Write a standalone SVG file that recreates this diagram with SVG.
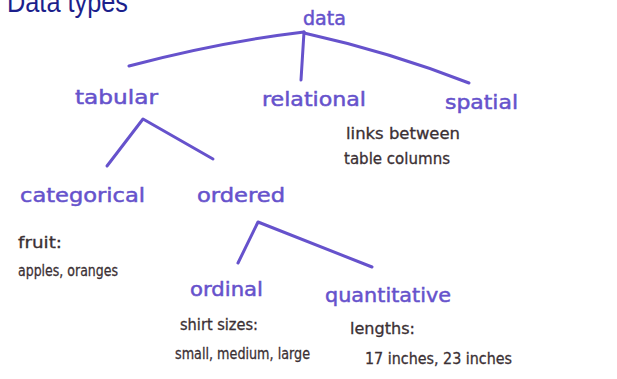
<svg xmlns="http://www.w3.org/2000/svg" width="617" height="379" viewBox="0 0 617 379">
<style>
.title{font-family:"Liberation Sans","DejaVu Sans",sans-serif;font-size:30px;fill:#1c1f8c}
.lbl{font-family:"DejaVu Sans","Liberation Sans",sans-serif;font-size:20px;fill:#6652cc;stroke:#6652cc;stroke-width:0.5}
.note{font-family:"DejaVu Sans","Liberation Sans",sans-serif;font-size:15px;fill:#3b3034;stroke:#3b3034;stroke-width:0.3}
.edge{stroke:#6652cc;stroke-width:3;fill:none;stroke-linecap:round;stroke-linejoin:round}
</style>
<rect width="617" height="379" fill="#ffffff"/>
<text class="title" x="7" y="12" textLength="121" lengthAdjust="spacingAndGlyphs">Data types</text>
<g id="connectors">
<path class="edge" d="M129,66 Q220,42 304,32"/>
<path class="edge" d="M304,32 L301,80"/>
<path class="edge" d="M304,33 Q390,52 469,83"/>
<path class="edge" d="M107,166 L143,119 L213,159"/>
<path class="edge" d="M238,263 L258,222 L372,267"/>
</g>
<g id="data"><text class="lbl" x="303" y="25" textLength="43" lengthAdjust="spacingAndGlyphs">data</text></g>
<g id="tabular"><text class="lbl" x="75" y="104" textLength="83" lengthAdjust="spacingAndGlyphs">tabular</text></g>
<g id="relational"><text class="lbl" x="262" y="106" textLength="104" lengthAdjust="spacingAndGlyphs">relational</text>
<text class="note" x="346" y="139" textLength="114" lengthAdjust="spacingAndGlyphs">links between</text>
<text class="note" x="344" y="164" textLength="106" lengthAdjust="spacingAndGlyphs">table columns</text></g>
<g id="spatial"><text class="lbl" x="445" y="109" textLength="73" lengthAdjust="spacingAndGlyphs">spatial</text></g>
<g id="categorical"><text class="lbl" x="20" y="202" textLength="125" lengthAdjust="spacingAndGlyphs">categorical</text>
<text class="note" x="18" y="248" textLength="44" lengthAdjust="spacingAndGlyphs">fruit:</text>
<text class="note" x="18" y="276" textLength="100" lengthAdjust="spacingAndGlyphs">apples, oranges</text></g>
<g id="ordered"><text class="lbl" x="197" y="202" textLength="88" lengthAdjust="spacingAndGlyphs">ordered</text></g>
<g id="ordinal"><text class="lbl" x="190" y="296" textLength="73" lengthAdjust="spacingAndGlyphs">ordinal</text>
<text class="note" x="180" y="330" textLength="78" lengthAdjust="spacingAndGlyphs">shirt sizes:</text>
<text class="note" x="175" y="359" textLength="135" lengthAdjust="spacingAndGlyphs">small, medium, large</text></g>
<g id="quantitative"><text class="lbl" x="325" y="302" textLength="126" lengthAdjust="spacingAndGlyphs">quantitative</text>
<text class="note" x="350" y="334" textLength="65" lengthAdjust="spacingAndGlyphs">lengths:</text>
<text class="note" x="365" y="364" textLength="147" lengthAdjust="spacingAndGlyphs">17 inches, 23 inches</text></g>
</svg>
